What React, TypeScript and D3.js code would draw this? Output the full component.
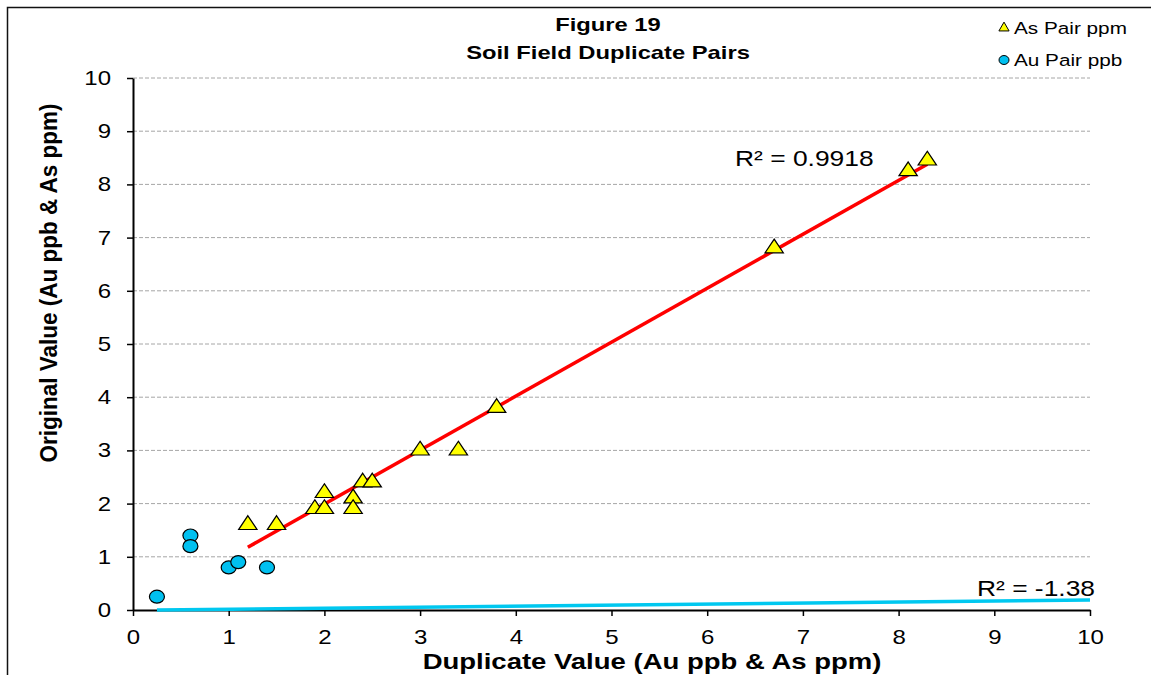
import { useEffect, useRef } from 'react';
import * as d3 from 'd3';

// As pairs (duplicate, original) in ppm
const asDuplicate = [1.2, 1.5, 1.9, 2.0, 2.0, 2.3, 2.3, 2.4, 2.5, 3.0, 3.4, 3.8, 6.7, 8.1, 8.3];
const asOriginal = [1.6, 1.6, 1.9, 2.2, 1.9, 2.1, 1.9, 2.4, 2.4, 3.0, 3.0, 3.8, 6.8, 8.25, 8.45];

// Au pairs (duplicate, original) in ppb
const auDuplicate = [0.25, 0.6, 0.6, 1.0, 1.1, 1.4];
const auOriginal = [0.25, 1.4, 1.2, 0.8, 0.9, 0.8];

// trendlines
const asTrendX = [1.2, 8.3];
const asTrendY = [1.18, 8.38];
const auTrendX = [0.25, 10];
const auTrendY = [0.0, 0.19];

const ticks = [0, 1, 2, 3, 4, 5, 6, 7, 8, 9, 10];

export default function App() {
    const svgRef = useRef<SVGSVGElement>(null);

    useEffect(() => {
        const svg = d3.select(svgRef.current);
        svg.selectAll('*').remove();

        const W = 1151;
        const H = 675;
        const left = 133;
        const right = 1090;
        const top = 78;
        const bottom = 610;
        const font = 'Liberation Sans, Arial, sans-serif';
        const sx = 1.2; // text in the original is a bit stretched sideways

        svg.attr('width', W).attr('height', H);

        const x = d3.scaleLinear().domain([0, 10]).range([left, right]);
        const y = d3.scaleLinear().domain([0, 10]).range([bottom, top]);

        // outer frame (top and left edges visible)
        svg.append('rect')
            .attr('x', 7.5)
            .attr('y', 7.5)
            .attr('width', W + 20)
            .attr('height', H + 20)
            .attr('fill', 'white')
            .attr('stroke', '#111')
            .attr('stroke-width', 1.5);

        // gridlines
        svg.append('g')
            .selectAll('line')
            .data(ticks.filter((t) => t > 0))
            .enter()
            .append('line')
            .attr('x1', left)
            .attr('x2', right)
            .attr('y1', (d) => y(d))
            .attr('y2', (d) => y(d))
            .attr('stroke', '#a6a6a6')
            .attr('stroke-width', 1)
            .attr('stroke-dasharray', '4,2');

        // axes
        const xAxis = svg.append('g')
            .attr('transform', `translate(0,${bottom})`)
            .call(d3.axisBottom(x).tickValues(ticks).tickSize(6).tickSizeOuter(0).tickPadding(14));
        xAxis.select('.domain').attr('stroke', '#000').attr('stroke-width', 2);
        xAxis.selectAll('.tick line').attr('stroke', '#000').attr('stroke-width', 1.5);
        xAxis.selectAll('text')
            .attr('transform', `scale(${sx},1)`)
            .style('font-family', font)
            .style('font-size', '20px')
            .attr('fill', '#000');

        const yAxis = svg.append('g')
            .attr('transform', `translate(${left},0)`)
            .call(d3.axisLeft(y).tickValues(ticks).tickSize(6).tickSizeOuter(0));
        yAxis.select('.domain').attr('stroke', '#000').attr('stroke-width', 2);
        yAxis.selectAll('.tick line').attr('stroke', '#000').attr('stroke-width', 1.5);
        yAxis.selectAll('text')
            .attr('x', -22 / sx)
            .attr('transform', `scale(${sx},1)`)
            .style('font-family', font)
            .style('font-size', '20px')
            .attr('fill', '#000');

        // trendlines
        const line = d3.line<[number, number]>()
            .x((d) => x(d[0]))
            .y((d) => y(d[1]));

        svg.append('path')
            .datum(auTrendX.map((v, i) => [v, auTrendY[i]] as [number, number]))
            .attr('d', line)
            .attr('fill', 'none')
            .attr('stroke', '#00c8f0')
            .attr('stroke-width', 3.5);

        svg.append('path')
            .datum(asTrendX.map((v, i) => [v, asTrendY[i]] as [number, number]))
            .attr('d', line)
            .attr('fill', 'none')
            .attr('stroke', '#ff0000')
            .attr('stroke-width', 3.5);

        // Au circles
        svg.append('g')
            .selectAll('ellipse')
            .data(auDuplicate.map((v, i) => [v, auOriginal[i]]))
            .enter()
            .append('ellipse')
            .attr('cx', (d) => x(d[0]))
            .attr('cy', (d) => y(d[1]))
            .attr('rx', 7.5)
            .attr('ry', 6.5)
            .attr('fill', '#00c0f0')
            .attr('stroke', '#000')
            .attr('stroke-width', 1.2);

        // As triangles
        const tri = d3.symbol().type(d3.symbolTriangle).size(120);
        svg.append('g')
            .selectAll('path')
            .data(asDuplicate.map((v, i) => [v, asOriginal[i]]))
            .enter()
            .append('path')
            .attr('d', tri)
            .attr('transform', (d) => `translate(${x(d[0])},${y(d[1])}) scale(1.1,0.95)`)
            .attr('fill', '#ffff00')
            .attr('stroke', '#000')
            .attr('stroke-width', 1.2);

        const addText = (
            tx: number,
            ty: number,
            txt: string,
            size: number,
            opts: { anchor?: string; bold?: boolean; stretch?: number } = {}
        ) =>
            svg.append('text')
                .attr('transform', `translate(${tx},${ty}) scale(${opts.stretch ?? sx},1)`)
                .attr('text-anchor', opts.anchor ?? 'start')
                .style('font-family', font)
                .style('font-size', `${size}px`)
                .style('font-weight', opts.bold ? 'bold' : 'normal')
                .text(txt);

        // R² labels
        addText(735, 166, 'R² = 0.9918', 22);
        addText(1095, 596, 'R² = -1.38', 22, { anchor: 'end' });

        // title
        addText(608, 31, 'Figure 19', 19, { anchor: 'middle', bold: true, stretch: 1.25 });
        addText(608, 59, 'Soil Field Duplicate Pairs', 19, { anchor: 'middle', bold: true, stretch: 1.25 });

        // axis titles
        addText(652, 669, 'Duplicate Value (Au ppb & As ppm)', 22, { anchor: 'middle', bold: true, stretch: 1.25 });

        svg.append('text')
            .attr('transform', `translate(57,283) rotate(-90) scale(1,1.1)`)
            .attr('text-anchor', 'middle')
            .style('font-family', font)
            .style('font-size', '22.5px')
            .style('font-weight', 'bold')
            .text('Original Value (Au ppb & As ppm)');

        // legend
        const legend = svg.append('g').attr('transform', 'translate(1004,0)');
        legend.append('path')
            .attr('d', d3.symbol().type(d3.symbolTriangle).size(45))
            .attr('transform', 'translate(0,28)')
            .attr('fill', '#ffff00')
            .attr('stroke', '#000')
            .attr('stroke-width', 1);
        legend.append('text')
            .attr('transform', `translate(10,34) scale(1.22,1)`)
            .style('font-family', font)
            .style('font-size', '17px')
            .text('As Pair  ppm');
        legend.append('ellipse')
            .attr('cx', 0)
            .attr('cy', 60)
            .attr('rx', 5)
            .attr('ry', 4.5)
            .attr('fill', '#00c0f0')
            .attr('stroke', '#000')
            .attr('stroke-width', 1);
        legend.append('text')
            .attr('transform', `translate(10,66) scale(1.22,1)`)
            .style('font-family', font)
            .style('font-size', '17px')
            .text('Au Pair  ppb');
    }, []);

    return (
        <svg ref={svgRef} style={{ position: 'absolute', left: 0, top: 0, display: 'block' }}></svg>
    );
}
